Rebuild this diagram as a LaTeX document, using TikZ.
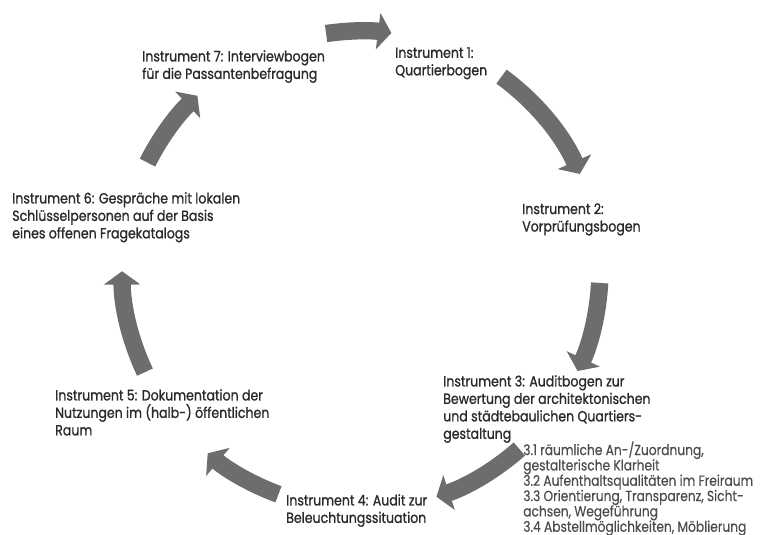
\documentclass[tikz,border=0pt]{standalone}
\usepackage{fontspec}
\setmainfont{Poppins}
\newfontfamily\labfont{Poppins}[FakeStretch=0.855,FakeBold=1.0]
\newfontfamily\subfont{Poppins}[FakeStretch=0.835,FakeBold=0.3]
\usetikzlibrary{arrows.meta}
\definecolor{ringgray}{HTML}{6D6D6D}
\definecolor{labgray}{HTML}{2A2A2A}
\definecolor{subgray}{HTML}{4C4C4C}
\begin{document}
\begin{tikzpicture}[x=0.75pt,y=-0.75pt,
  ring/.style={draw=ringgray, line width=13pt,
    -{Triangle[width=27pt,length=10pt]}},
  lab/.style={anchor=north west, inner sep=0pt, align=left, text=labgray,
    font=\labfont\fontsize{11}{13.1}\selectfont},
  sublab/.style={anchor=north west, inner sep=0pt, align=left, text=subgray,
    font=\subfont\fontsize{11}{11.5}\selectfont}]
\useasboundingbox (0,0) rectangle (760,535);
\fill[white] (0,0) rectangle (760,535);

% centre of the cycle
\coordinate (hub) at (361,270);

% labels of the seven instruments
\node[lab] (n7) at (142,50) {Instrument 7: Interviewbogen\\für die Passantenbefragung};
\node[lab] (n1) at (395,47) {Instrument 1:\\Quartierbogen};
\node[lab] (n2) at (522,203) {Instrument 2:\\Vorprüfungsbogen};
\node[lab] (n3) at (443,375) {Instrument 3: Auditbogen zur\\Bewertung der architektonischen\\und städtebaulichen Quartiers-\\gestaltung};
\node[sublab] (n3list) at (523,441) {3.1 räumliche An-/Zuordnung,\\gestalterische Klarheit\\3.2 Aufenthaltsqualitäten im Freiraum\\3.3 Orientierung, Transparenz, Sicht-\\achsen, Wegeführung\\3.4 Abstellmöglichkeiten, Möblierung};
\node[lab] (n4) at (286,494) {Instrument 4: Audit zur\\Beleuchtungssituation};
\node[lab] (n5) at (55,389) {Instrument 5: Dokumentation der\\Nutzungen im (halb-) öffentlichen\\Raum};
\node[lab] (n6) at (12,192) {Instrument 6: Gespräche mit lokalen\\Schlüsselpersonen auf der Basis\\eines offenen Fragekatalogs};

% curved arrows around the hub, clockwise
\draw[ring] (hub) ++(261.6:239) arc[start angle=261.6, end angle=277.3, radius=239];
\draw[ring] (hub) ++(306:239) arc[start angle=306, end angle=336.3, radius=239];
\draw[ring] (hub) ++(3.1:239) arc[start angle=3.1, end angle=25, radius=239];
\draw[ring] (hub) ++(48.5:239) arc[start angle=48.5, end angle=71.6, radius=239];
\draw[ring] (hub) ++(110.2:239) arc[start angle=110.2, end angle=129.9, radius=239];
\draw[ring] (hub) ++(154.7:239) arc[start angle=154.7, end angle=179.7, radius=239];
\draw[ring] (hub) ++(206.7:239) arc[start angle=206.7, end angle=226.8, radius=239];
\end{tikzpicture}
\end{document}
